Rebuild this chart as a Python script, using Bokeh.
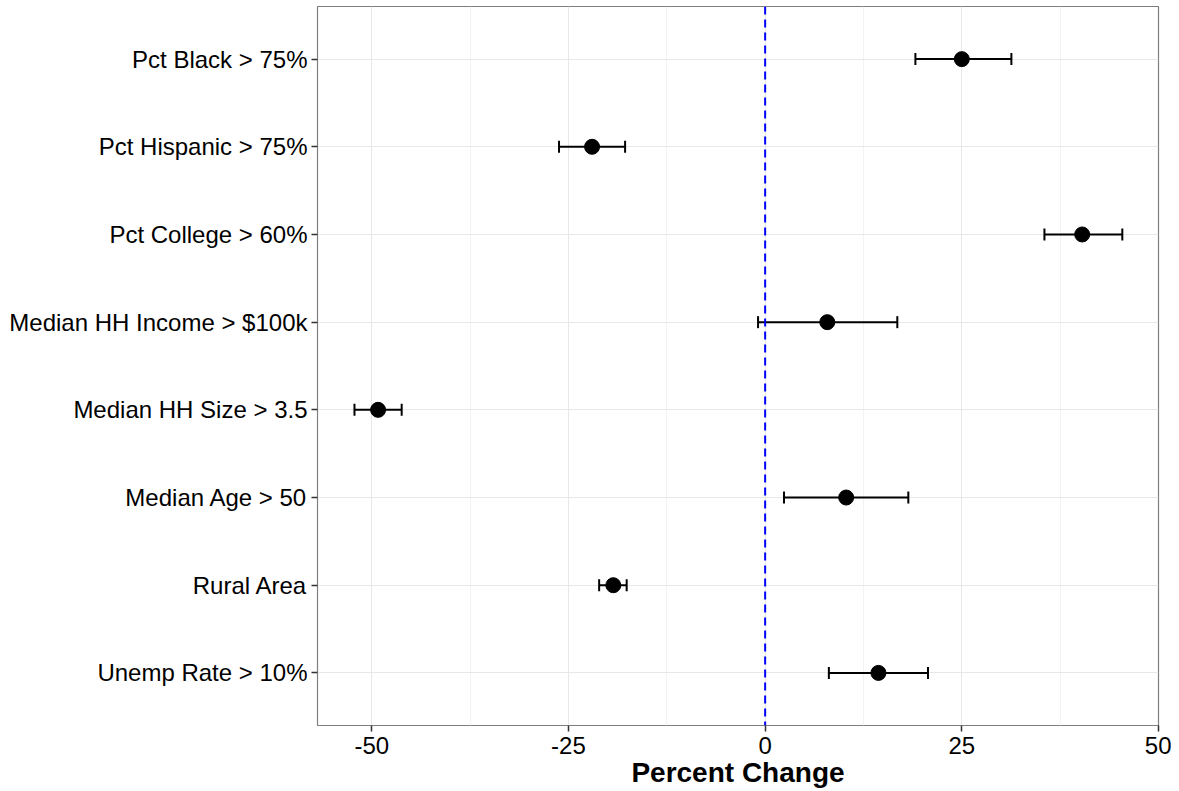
from bokeh.plotting import figure
from bokeh.models import (ColumnDataSource, Range1d, FixedTicker, Whisker, TeeHead, Span)
from bokeh.embed import file_html
from bokeh.resources import INLINE

# data
labels = ["Pct Black > 75%", "Pct Hispanic > 75%", "Pct College > 60%",
          "Median HH Income > $100k", "Median HH Size > 3.5", "Median Age > 50",
          "Rural Area", "Unemp Rate > 10%"]
estimate = [25.0, -22.0, 40.3, 7.9, -49.2, 10.3, -19.3, 14.4]
lower = [19.1, -26.2, 35.5, -0.9, -52.2, 2.4, -21.1, 8.1]
upper = [31.3, -17.8, 45.4, 16.8, -46.2, 18.2, -17.6, 20.7]
x_ticks = [-50, -25, 0, 25, 50]

n = len(labels)
ypos = [n - i for i in range(n)]

src = ColumnDataSource(dict(y=ypos, est=estimate, lo=lower, hi=upper))

p = figure(width=1171, height=790, output_backend="svg", toolbar_location=None,
           x_range=Range1d(-56.9, 50), y_range=Range1d(0.4, n + 0.6),
           min_border_left=317, min_border_right=13, min_border_top=6, min_border_bottom=59)

p.outline_line_color = "#7f7f7f"
p.outline_line_width = 1.2

# grid
p.xgrid.ticker = FixedTicker(ticks=x_ticks, minor_ticks=[-37.5, -12.5, 12.5, 37.5])
p.xgrid.grid_line_color = "#e8e8e8"
p.xgrid.minor_grid_line_color = "#f3f3f3"
p.ygrid.ticker = FixedTicker(ticks=ypos)
p.ygrid.grid_line_color = "#e8e8e8"

# axes
p.xaxis.ticker = FixedTicker(ticks=x_ticks)
p.xaxis.major_label_overrides = {t: str(t) for t in x_ticks}
p.yaxis.ticker = FixedTicker(ticks=ypos)
p.yaxis.major_label_overrides = {y: lab for y, lab in zip(ypos, labels)}
for ax in (p.xaxis[0], p.yaxis[0]):
    ax.axis_line_color = None
    ax.minor_tick_line_color = None
    ax.major_tick_line_color = "#333333"
    ax.major_tick_line_width = 1.5
    ax.major_tick_out = 6
    ax.major_tick_in = 0
    ax.major_label_text_font = "Liberation Sans"
    ax.major_label_text_font_size = "24px"
    ax.major_label_text_color = "black"
    ax.major_label_standoff = 4
p.xaxis.major_label_standoff = 5
p.xaxis.axis_label = "Percent Change"
p.xaxis.axis_label_text_font = "Liberation Sans"
p.xaxis.axis_label_text_font_style = "bold"
p.xaxis.axis_label_text_font_size = "28px"
p.xaxis.axis_label_text_color = "black"
p.xaxis.axis_label_standoff = 0

# zero line
p.add_layout(Span(location=0, dimension="height", line_color="blue",
                  line_dash="8 5", line_width=2))

# error bars
p.add_layout(Whisker(source=src, base="y", lower="lo", upper="hi", dimension="width",
                     line_color="black", line_width=2,
                     upper_head=TeeHead(size=12, line_width=2, line_color="black"),
                     lower_head=TeeHead(size=12, line_width=2, line_color="black")))

p.scatter("est", "y", source=src, size=15, color="black")

open("out.html", "w").write(file_html(p, INLINE))
